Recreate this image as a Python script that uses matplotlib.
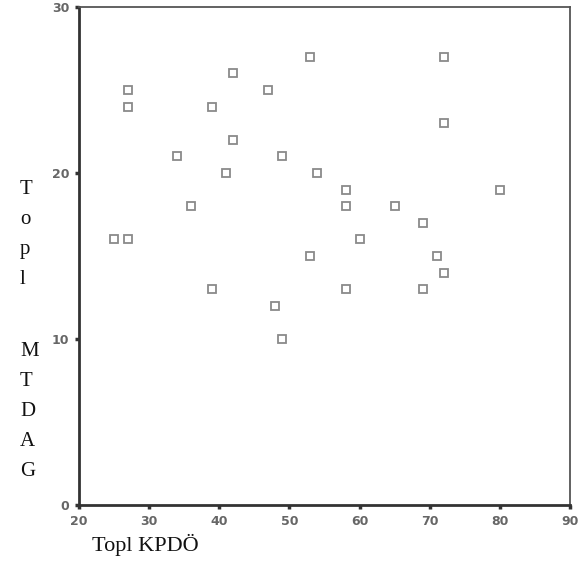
import matplotlib
matplotlib.use('Agg')
import matplotlib.pyplot as plt

# Topl KPDÖ vs Topl MTDAG
kpdo = [25, 27, 27, 27, 34, 36, 39, 39, 41, 42, 42, 47, 48, 49, 49,
        53, 53, 54, 58, 58, 58, 60, 65, 69, 69, 71, 72, 72, 72, 80]
mtdag = [16, 16, 25, 24, 21, 18, 24, 13, 20, 26, 22, 25, 12, 21, 10,
         27, 15, 20, 19, 18, 13, 16, 18, 17, 13, 15, 27, 23, 14, 19]

xticks = [20, 30, 40, 50, 60, 70, 80, 90]
yticks = [0, 10, 20, 30]

fig = plt.figure(figsize=(5.79, 5.69), dpi=100)
ax = fig.add_axes([79/579, 1 - 505/569, (570-79)/579, (505-7)/569])

ax.plot(kpdo, mtdag, linestyle='none', marker='s', markersize=5.5,
        markerfacecolor='white', markeredgecolor='#8a8a8a', markeredgewidth=1.3)

ax.set_xlim(20, 90)
ax.set_ylim(0, 30)
ax.set_xticks(xticks)
ax.set_yticks(yticks)

for side in ['left', 'bottom']:
    ax.spines[side].set_linewidth(2)
    ax.spines[side].set_color('#333333')
for side in ['top', 'right']:
    ax.spines[side].set_linewidth(1.3)
    ax.spines[side].set_color('#555555')

ax.tick_params(direction='out', length=3, width=2.5, color='#333333',
               labelsize=9, labelcolor='#666666', pad=4)
for lab in ax.get_xticklabels() + ax.get_yticklabels():
    lab.set_fontweight('bold')

# stacked y label, serif, like the original
fig.text(20/579, 1 - 180/569, 'T\no\np\nl', family='Liberation Serif', fontsize=15,
         ha='left', va='top', linespacing=1.78, color='#111111')
fig.text(20/579, 1 - 342/569, 'M\nT\nD\nA\nG', family='Liberation Serif', fontsize=15,
         ha='left', va='top', linespacing=1.78, color='#111111')

fig.text(92/579, 1 - 556/569, 'Topl KPDÖ', family='Liberation Serif', fontsize=16,
         ha='left', va='bottom', color='#111111')

fig.savefig('out.png', dpi=100, facecolor='white')
